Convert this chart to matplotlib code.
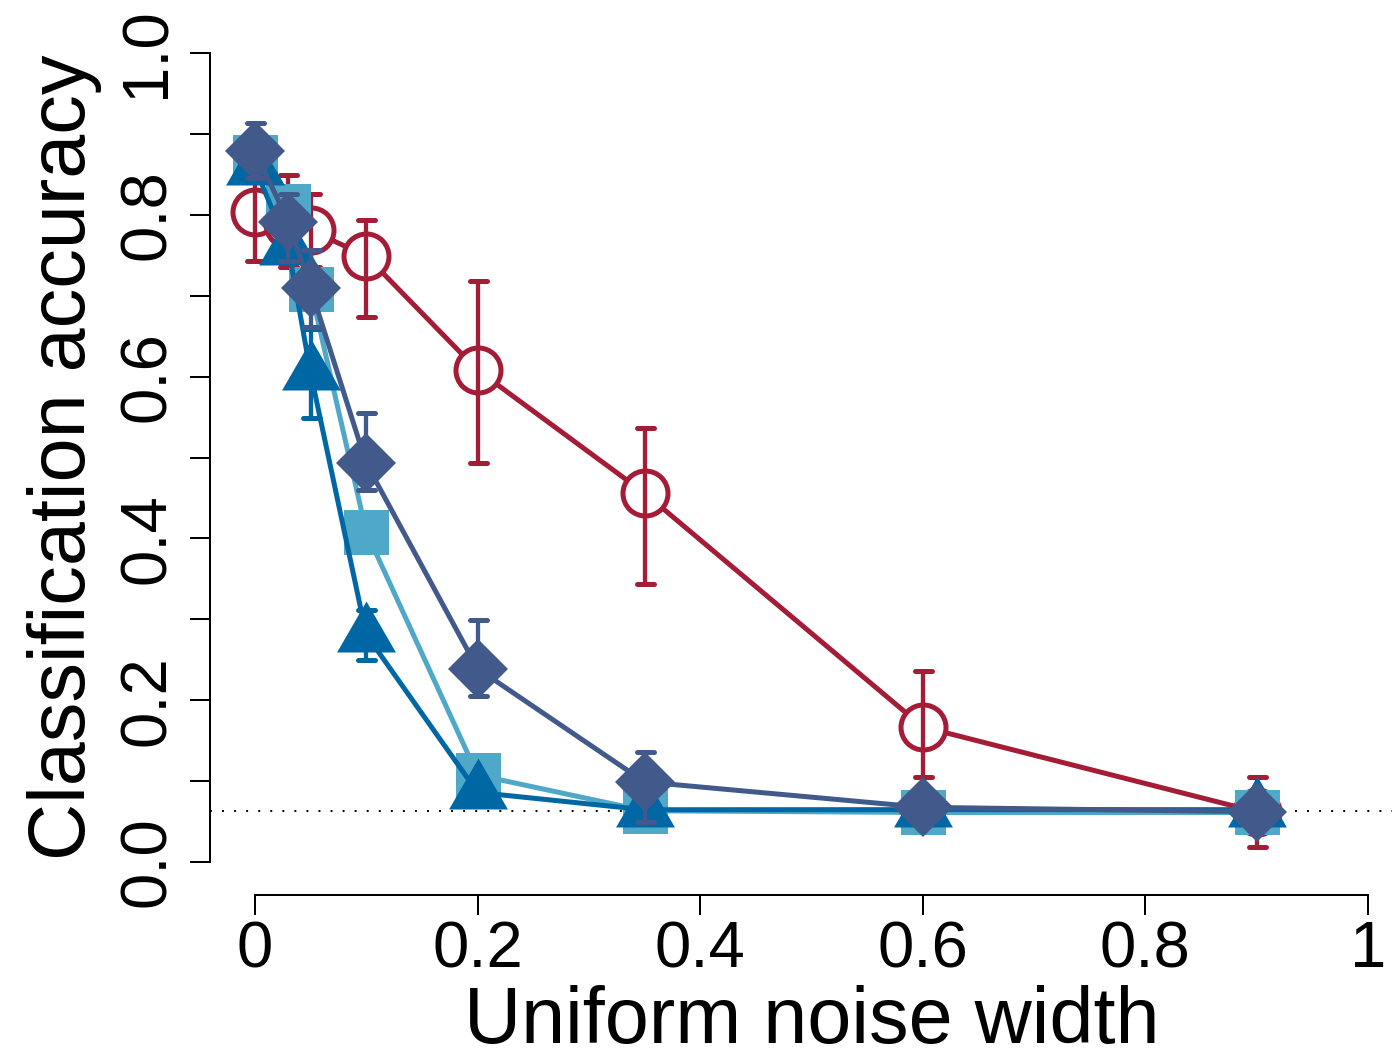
import matplotlib
matplotlib.use('Agg')
import matplotlib.pyplot as plt
from matplotlib.path import Path
from matplotlib.markers import MarkerStyle

plt.rcParams['font.family'] = ['Liberation Sans', 'DejaVu Sans']

# ---------------- data ----------------
noise_width = [0, 0.03, 0.05, 0.1, 0.2, 0.35, 0.6, 0.9]

circle_acc = [0.803, 0.789, 0.781, 0.749, 0.608, 0.456, 0.167, 0.062]
circle_lo = [0.743, 0.735, 0.735, 0.674, 0.493, 0.344, 0.105, 0.018]
circle_hi = [0.863, 0.849, 0.826, 0.793, 0.718, 0.537, 0.236, 0.105]

square_acc = [0.872, 0.811, 0.708, 0.408, 0.1075, 0.0634, 0.0612, 0.0612]

triangle_acc = [0.858, 0.759, 0.604, 0.281, 0.086, 0.0646, 0.0647, 0.0647]
triangle_lo = [0.84, 0.74, 0.549, 0.250, 0.075, 0.058, 0.058, 0.058]
triangle_hi = [0.876, 0.778, 0.659, 0.312, 0.097, 0.071, 0.071, 0.071]

diamond_acc = [0.879, 0.791, 0.709, 0.4926, 0.239, 0.099, 0.0676, 0.0621]
diamond_lo = [0.845, 0.743, 0.661, 0.460, 0.2055, 0.0497, 0.055, 0.050]
diamond_hi = [0.913, 0.826, 0.757, 0.555, 0.299, 0.136, 0.080, 0.075]

chance_level = 0.0625

x_ticks = [0, 0.2, 0.4, 0.6, 0.8, 1]
x_tick_labels = ['0', '0.2', '0.4', '0.6', '0.8', '1']
y_ticks = [0.0, 0.1, 0.2, 0.3, 0.4, 0.5, 0.6, 0.7, 0.8, 0.9, 1.0]
y_tick_labels = ['0.0', '', '0.2', '', '0.4', '', '0.6', '', '0.8', '', '1.0']

x_label = 'Uniform noise width'
y_label = 'Classification accuracy'

# ---------------- style ----------------
RED = '#A51C36'
LIGHT = '#4FA8C8'
TRI = '#0067A5'
DIA = '#425A8B'

W, H = 1392, 1049
P = 0.72  # points per pixel at dpi 100

fig = plt.figure(figsize=(W / 100, H / 100), dpi=100)
ax = fig.add_axes([210 / W, (H - 895) / H, (W - 210) / W, 895 / H])
ax.set_xlim((210 - 255) / 1113, (1392 - 255) / 1113)
ax.set_ylim((862 - 895) / 809, 862 / 809)

for s in ('top', 'right'):
    ax.spines[s].set_visible(False)
ax.spines['left'].set_bounds(0, 1)
ax.spines['bottom'].set_bounds(0, 1)
for s in ('left', 'bottom'):
    ax.spines[s].set_linewidth(2 * P)

ax.tick_params(axis='both', direction='out', length=20 * P, width=2 * P,
               labelsize=47)
ax.tick_params(axis='x', pad=52 * P)
ax.tick_params(axis='y', pad=25 * P)
ax.set_xticks(x_ticks, labels=x_tick_labels)
ax.set_yticks(y_ticks, labels=y_tick_labels)
for lbl in ax.get_xticklabels():
    lbl.set_va('baseline')
    lbl.set_ha('center')
for lbl in ax.get_yticklabels():
    lbl.set_rotation(90)
    lbl.set_rotation_mode('anchor')
    lbl.set_ha('center')
    lbl.set_va('baseline')

# chance line
ax.axhline(chance_level, color='black', lw=1.4, linestyle=(0, (1.0, 5.2)),
           zorder=1)

line_kw = dict(lw=5 * P, solid_capstyle='round', solid_joinstyle='round')
cap_marker = MarkerStyle('_', capstyle='round')


def errbars(x, lo, hi, color, z):
    ax.vlines(x, lo, hi, color=color, lw=4.3 * P, capstyle='round', zorder=z)
    ax.plot(x, lo, ls='none', marker=cap_marker, ms=17 * P, mew=5 * P,
            color=color, zorder=z)
    ax.plot(x, hi, ls='none', marker=cap_marker, ms=17 * P, mew=5 * P,
            color=color, zorder=z)


# circles (open)
ax.plot(noise_width, circle_acc, color=RED, zorder=2, **line_kw)
ax.plot(noise_width, circle_acc, ls='none', marker='o', ms=45 * P,
        mfc='white', mec=RED, mew=5 * P, zorder=2.1)
errbars(noise_width, circle_lo, circle_hi, RED, 2.2)

# squares
ax.plot(noise_width, square_acc, color=LIGHT, marker='s', ms=45 * P, mew=0,
        zorder=3, **line_kw)

# triangles (centroid-centred, like R pch 17)
tri_path = Path([(0, 1), (-0.8660254, -0.5), (0.8660254, -0.5), (0, 1)],
                [Path.MOVETO, Path.LINETO, Path.LINETO, Path.CLOSEPOLY])
errbars(noise_width, triangle_lo, triangle_hi, TRI, 3.9)
ax.plot(noise_width, triangle_acc, color=TRI, marker=MarkerStyle(tri_path),
        ms=68 * P, mew=0, zorder=4, **line_kw)

# diamonds
errbars(noise_width, diamond_lo, diamond_hi, DIA, 4.9)
ax.plot(noise_width, diamond_acc, color=DIA, marker='D', ms=42 * P, mew=0,
        zorder=5, **line_kw)

# axis titles
fig.text(811.5 / W, 1 - 1043 / H, x_label, ha='center', va='baseline',
         fontsize=57)
fig.text(85 / W, 1 - 457.5 / H, y_label, rotation=90, rotation_mode='anchor',
         ha='center', va='baseline', fontsize=57)

fig.savefig('out.png', dpi=100)
